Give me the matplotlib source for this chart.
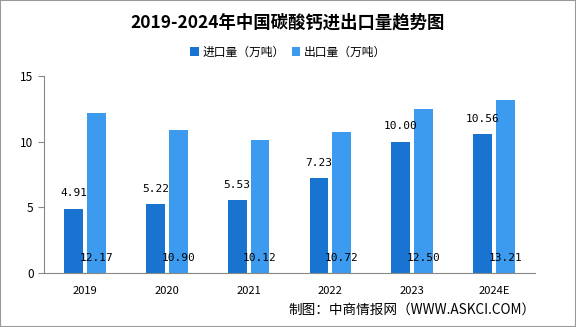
import numpy as np
import matplotlib.pyplot as plt
from matplotlib.patches import Rectangle

plt.rcParams['font.family'] = ['Noto Sans CJK SC', 'DejaVu Sans']

years = ['2019', '2020', '2021', '2022', '2023', '2024E']
imports = [4.91, 5.22, 5.53, 7.23, 10.00, 10.56]
exports = [12.17, 10.90, 10.12, 10.72, 12.50, 13.21]

c_imp = '#1874D0'
c_exp = '#3C9BEE'

fig = plt.figure(figsize=(5.76, 3.27), dpi=100)
ax = fig.add_axes([44/576, 1 - 273/327, 491/576, 197/327])

xx = np.arange(len(years))
bw = 0.23
b1 = ax.bar(xx - 0.14, imports, bw, color=c_imp, label='进口量（万吨）')
b2 = ax.bar(xx + 0.14, exports, bw, color=c_exp, label='出口量（万吨）')

for ii in range(len(years)):
    ax.annotate(f'{imports[ii]:.2f}', (xx[ii] - 0.14, imports[ii]), xytext=(0, 11),
                textcoords='offset points', ha='center', va='center', fontsize=8,
                family='DejaVu Sans Mono')
    ax.annotate(f'{exports[ii]:.2f}', (xx[ii] + 0.14, 0), xytext=(0, 10.5),
                textcoords='offset points', ha='center', va='center', fontsize=8,
                family='DejaVu Sans Mono')

ax.set_xlim(-0.5, 5.5)
ax.set_ylim(0, 15)
ax.set_yticks([0, 5, 10, 15])
ax.set_xticks(xx)
ax.set_xticklabels(years)
ax.tick_params(axis='x', length=0, pad=9, labelsize=8)
ax.tick_params(axis='y', length=4, color='#888888', labelsize=8.5)
for s in ['top', 'right']:
    ax.spines[s].set_visible(False)
for s in ['left', 'bottom']:
    ax.spines[s].set_color('#888888')

fig.text(0.5, 1 - 22/327, '2019-2024年中国碳酸钙进出口量趋势图', ha='center', va='center',
         fontsize=12.5, fontweight='bold')
fig.legend(handles=[b1, b2], loc='center', bbox_to_anchor=(0.5, 1 - 52/327), ncol=2,
           frameon=False, fontsize=8.5, handlelength=0.7, handleheight=0.7,
           handletextpad=0.3, columnspacing=0.6)
fig.text(536/576, 1 - 310/327, '制图：中商情报网（WWW.ASKCI.COM）', ha='right', va='center',
         fontsize=9.8)

fig.add_artist(Rectangle((0, 0), 1, 1, transform=fig.transFigure, fill=False,
                         edgecolor='#999999', linewidth=1.5))

fig.savefig('out.png', dpi=100)
